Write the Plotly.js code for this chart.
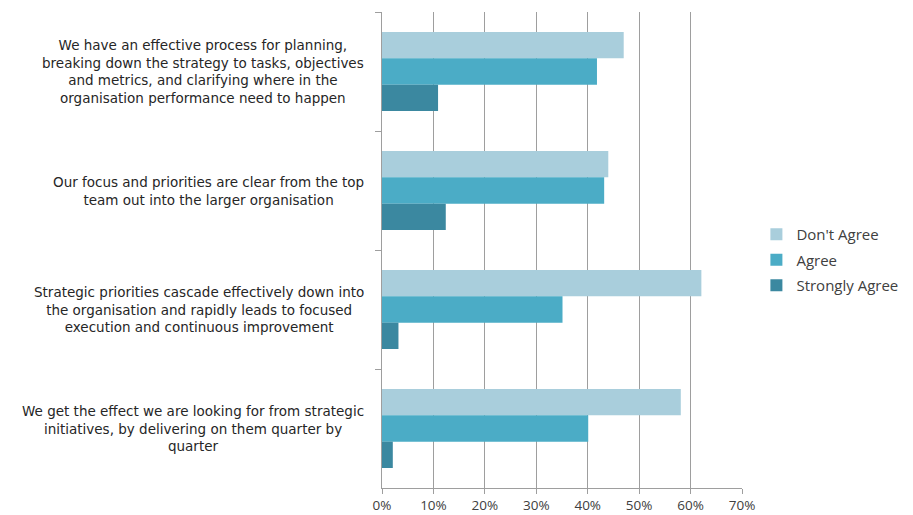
<!DOCTYPE html>
<html>
<head>
<meta charset="utf-8">
<script src="https://cdn.plot.ly/plotly-3.0.1.min.js"></script>
<style>html,body{margin:0;padding:0;background:#fff;}#chart{width:913px;height:515px;}</style>
</head>
<body>
<div id="chart"></div>
<script>
const categories = [
  "We have an effective process for planning,<br>breaking down the strategy to tasks, objectives<br>and metrics, and clarifying where in the<br>organisation performance need to happen",
  "Our focus and priorities are clear from the top<br>team out into the larger organisation",
  "Strategic priorities cascade effectively down into<br>the organisation and rapidly leads to focused<br>execution and continuous improvement",
  "We get the effect we are looking for from strategic<br>initiatives, by delivering on them quarter by<br>quarter"
];
const seriesNames = ["Don't Agree", "Agree", "Strongly Agree"];
const dontAgree = [47.0, 44.0, 62.1, 58.1];
const agree = [41.8, 43.2, 35.1, 40.1];
const stronglyAgree = [10.9, 12.4, 3.2, 2.1];
const xTicks = [0, 10, 20, 30, 40, 50, 60, 70];

const colors = ["#A9CEDC", "#4BACC6", "#3B88A0"];
const seriesValues = [dontAgree, agree, stronglyAgree];

const font = "'Open Sans', sans-serif";
const labelFont = "'DejaVu Sans', sans-serif";
const traces = seriesValues.map((vals, i) => ({
  type: "bar",
  orientation: "h",
  name: seriesNames[i],
  legendgroup: "g" + i,
  x: vals,
  y: categories,
  marker: { color: colors[i] },
  hoverinfo: "skip"
}));

const annotations = categories.map(c => ({
  xref: "paper", yref: "y",
  x: -0.047, y: c,
  xanchor: "right", yanchor: "middle",
  align: "center",
  text: c,
  showarrow: false,
  borderpad: 0,
  font: { family: labelFont, size: 13.5, color: "#262626" }
}));

const layout = {
  width: 913, height: 515,
  margin: { l: 382, r: 171, t: 12, b: 27, autoexpand: false },
  paper_bgcolor: "#fff",
  plot_bgcolor: "#fff",
  barmode: "group",
  bargap: 0.336,
  bargroupgap: 0,
  font: { family: font, size: 13, color: "#404040" },
  xaxis: {
    range: [0, 70],
    tickvals: xTicks,
    ticktext: xTicks.map(v => v + "%"),
    showgrid: true,
    gridcolor: "#9e9e9e",
    gridwidth: 1,
    zeroline: false,
    showline: true,
    linecolor: "#9e9e9e",
    ticks: "outside",
    ticklen: 5,
    tickcolor: "#9e9e9e",
    tickfont: { family: font, size: 13.5, color: "#404040" },
    fixedrange: true
  },
  yaxis: {
    type: "category",
    autorange: "reversed",
    showticklabels: false,
    showgrid: false,
    zeroline: false,
    showline: true,
    linecolor: "#9e9e9e",
    ticks: "outside",
    tickson: "boundaries",
    ticklen: 6,
    tickcolor: "#9e9e9e",
    fixedrange: true
  },
  legend: {
    x: 1.04, y: 0.479, xanchor: "left", yanchor: "middle",
    font: { family: font, size: 15, color: "#404040" },
    traceorder: "grouped",
    tracegroupgap: 3,
    itemwidth: 30
  },
  annotations: annotations,
  showlegend: true
};

Plotly.newPlot("chart", traces, layout, { displayModeBar: false, staticPlot: true });
</script>
</body>
</html>
